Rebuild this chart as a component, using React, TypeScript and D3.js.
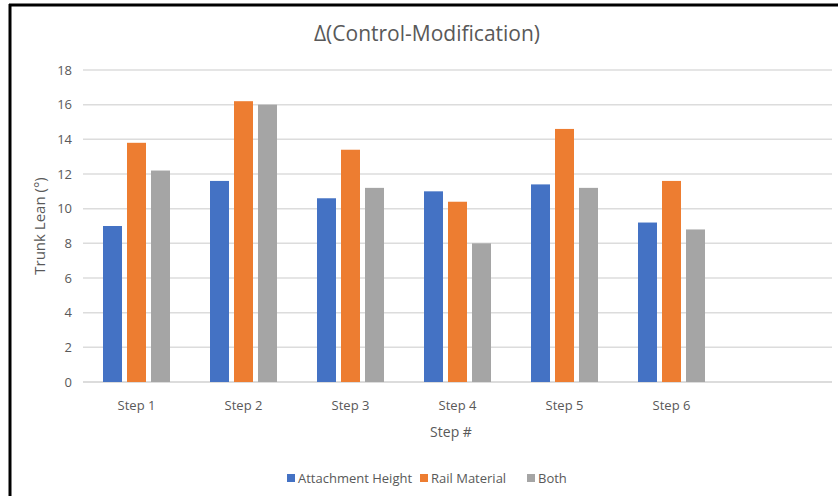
import React from "react";
import * as d3 from "d3";

const categories = ["Step 1", "Step 2", "Step 3", "Step 4", "Step 5", "Step 6", ""];
const seriesNames = ["Attachment Height", "Rail Material", "Both"];
const attachmentHeight = [9.0, 11.6, 10.6, 11.0, 11.4, 9.2];
const railMaterial = [13.8, 16.2, 13.4, 10.4, 14.6, 11.6];
const both = [12.2, 16.0, 11.2, 8.0, 11.2, 8.8];
const yTicks = [0, 2, 4, 6, 8, 10, 12, 14, 16, 18];
const colors = ["#4472C4", "#ED7D31", "#A5A5A5"];

const W = 838;
const H = 496;
const FONT = "'Open Sans', 'Liberation Sans', sans-serif";
const TEXT = "#595959";

export default function App() {
  const series = [attachmentHeight, railMaterial, both];
  const x = d3.scaleBand<string>().domain(categories).range([83, 832]);
  const y = d3.scaleLinear().domain([0, 18]).range([382, 70]);
  const barW = 19;
  const barStep = 24;
  const groupW = barStep * 2 + barW;

  const legendItems = [
    { name: seriesNames[0], x: 287 },
    { name: seriesNames[1], x: 420 },
    { name: seriesNames[2], x: 527 },
  ];

  return (
    <svg
      width={W}
      height={H}
      style={{ position: "absolute", left: 0, top: 0, background: "#fff" }}
      fontFamily={FONT}
    >
      <rect x={0} y={0} width={W} height={H} fill="#fff" />
      <line x1={9} y1={5} x2={W} y2={5} stroke="#000" strokeWidth={3} />
      <line x1={10} y1={4} x2={10} y2={H} stroke="#000" strokeWidth={3} />

      <text x={427} y={41} textAnchor="middle" fontSize={21} fill={TEXT}>
        Δ(Control-Modification)
      </text>

      {yTicks.map((t) => (
        <g key={t}>
          <line
            x1={83}
            x2={832}
            y1={y(t)}
            y2={y(t)}
            stroke={t === 0 ? "#d0d0d0" : "#dcdcdc"}
            strokeWidth={1.5}
          />
          <text x={72} y={y(t) + 4.5} textAnchor="end" fontSize={13} fill={TEXT}>
            {t}
          </text>
        </g>
      ))}

      {series.map((vals, si) =>
        vals.map((v, ci) => {
          const cx = (x(categories[ci]) as number) + x.bandwidth() / 2;
          const bx = cx - groupW / 2 + si * barStep;
          return (
            <rect
              key={`${si}-${ci}`}
              x={bx}
              y={y(v)}
              width={barW}
              height={y(0) - y(v)}
              fill={colors[si]}
            />
          );
        })
      )}

      {categories.map((c) =>
        c ? (
          <text
            key={c}
            x={(x(c) as number) + x.bandwidth() / 2}
            y={410}
            textAnchor="middle"
            fontSize={13}
            fill={TEXT}
          >
            {c}
          </text>
        ) : null
      )}

      <text x={451} y={437} textAnchor="middle" fontSize={14} fill={TEXT}>
        Step #
      </text>
      <text
        transform={`translate(45, 226) rotate(-90)`}
        textAnchor="middle"
        fontSize={15}
        fill={TEXT}
      >
        Trunk Lean (°)
      </text>

      {legendItems.map((item, i) => (
        <g key={item.name}>
          <rect x={item.x} y={474} width={8} height={8} fill={colors[i]} />
          <text x={item.x + 11} y={483} fontSize={13} fill={TEXT}>
            {item.name}
          </text>
        </g>
      ))}
    </svg>
  );
}
